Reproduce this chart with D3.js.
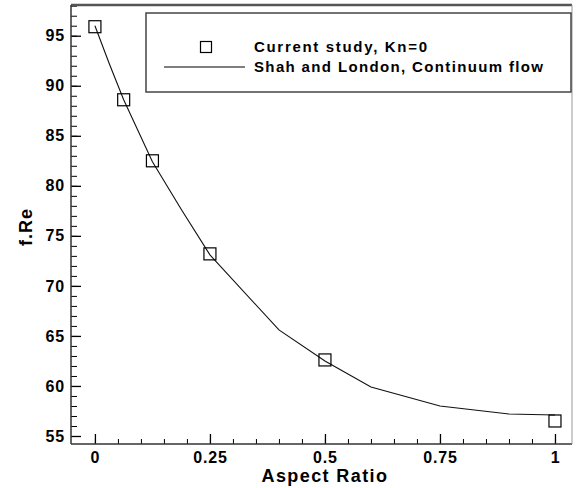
<!DOCTYPE html>
<html>
<head>
<meta charset="utf-8">
<script src="https://cdn.jsdelivr.net/npm/d3@7"></script>
<style>
  body { margin: 0; background: #fff; }
  svg text { font-family: "Liberation Sans", Arial, sans-serif; font-weight: bold; fill: #000; }
  .axis path { display: none; }
  .axis line { stroke: #000; stroke-width: 1.3; }
  .minor line { stroke: #000; stroke-width: 1; }
</style>
</head>
<body>
<script>
    const WIDTH = 577, HEIGHT = 488;

    // Current study (squares)
    const studyAR = [0, 0.0625, 0.125, 0.25, 0.5, 1];
    const studyFRe = [95.9, 88.6, 82.5, 73.2, 62.6, 56.5];

    // Shah and London (line)
    const shahAR = [0, 0.03125, 0.0625, 0.125, 0.1875, 0.25, 0.4, 0.5, 0.6, 0.75, 0.9, 1];
    const shahFRe = [96.0, 92.2, 88.6, 82.4, 77.65, 73.1, 65.6, 62.5, 59.9, 58.0, 57.2, 57.1];

    const xTicks = [0, 0.25, 0.5, 0.75, 1];
    const yTicks = [55, 60, 65, 70, 75, 80, 85, 90, 95];
    const legendLabels = ["Current study, Kn=0", "Shah and London, Continuum flow"];

    var margin = {left: 71, top: 5, right: 5, bottom: 44};
    var plotW = WIDTH - margin.left - margin.right;
    var plotH = HEIGHT - margin.top - margin.bottom;

    var x = d3.scaleLinear().domain([-0.052, 1.037]).range([0, plotW]);
    var y = d3.scaleLinear().domain([54.2, 98.07]).range([plotH, 0]);

    var svg = d3.select("body").append("svg")
        .attr("width", WIDTH)
        .attr("height", HEIGHT);

    var chart = svg.append("g")
        .attr("transform", "translate(" + margin.left + "," + margin.top + ")");

    // minor ticks
    chart.append("g")
        .attr("class", "axis minor")
        .attr("transform", "translate(0," + plotH + ")")
        .call(d3.axisBottom(x).tickValues(d3.range(0, 1.01, 0.05)).tickSize(-5).tickFormat(""));
    chart.append("g")
        .attr("class", "axis minor")
        .call(d3.axisLeft(y).tickValues(d3.range(55, 99, 1)).tickSize(-6).tickFormat(""));

    // major ticks
    chart.append("g")
        .attr("class", "axis")
        .attr("transform", "translate(0," + plotH + ")")
        .call(d3.axisBottom(x).tickValues(xTicks).tickSize(-10).tickPadding(8).tickFormat(d3.format("")))
        .selectAll("text")
        .style("font-size", "16px")
        .style("letter-spacing", "0.8px")
        .attr("fill", "#000");
    chart.append("g")
        .attr("class", "axis")
        .call(d3.axisLeft(y).tickValues(yTicks).tickSize(-10).tickPadding(6))
        .selectAll("text")
        .style("font-size", "16px")
        .style("letter-spacing", "0.8px")
        .attr("fill", "#000");

    // frame
    chart.append("line").attr("x1", 0).attr("x2", plotW).attr("y1", 0).attr("y2", 0)
        .attr("stroke", "#555").attr("stroke-width", 2.5);
    chart.append("line").attr("x1", 0).attr("x2", 0).attr("y1", 0).attr("y2", plotH)
        .attr("stroke", "#333").attr("stroke-width", 1.5);
    chart.append("line").attr("x1", 0).attr("x2", plotW).attr("y1", plotH).attr("y2", plotH)
        .attr("stroke", "#333").attr("stroke-width", 1.5);
    chart.append("line").attr("x1", plotW).attr("x2", plotW).attr("y1", 0).attr("y2", plotH)
        .attr("stroke", "#999").attr("stroke-width", 1);

    // Shah and London line
    var line = d3.line()
        .x(function(d, i) { return x(shahAR[i]); })
        .y(function(d) { return y(d); });
    chart.append("path")
        .datum(shahFRe)
        .attr("d", line)
        .attr("fill", "none")
        .attr("stroke", "#111")
        .attr("stroke-width", 1.1);

    // squares
    var SQ = 12;
    chart.append("g")
        .selectAll("rect")
        .data(studyFRe)
        .enter()
        .append("rect")
        .attr("x", function(d, i) { return x(studyAR[i]) - SQ / 2; })
        .attr("y", function(d) { return y(d) - SQ / 2; })
        .attr("width", SQ)
        .attr("height", SQ)
        .attr("fill", "none")
        .attr("stroke", "#000")
        .attr("stroke-width", 1.2);

    // axis titles
    svg.append("text")
        .attr("x", margin.left + x(0.5))
        .attr("y", 482)
        .attr("text-anchor", "middle")
        .style("font-size", "18px")
        .style("letter-spacing", "1.4px")
        .text("Aspect Ratio");
    svg.append("text")
        .attr("transform", "translate(32," + 227 + ") rotate(-90)")
        .attr("text-anchor", "middle")
        .style("font-size", "18px")
        .style("letter-spacing", "1px")
        .text("f.Re");

    // legend
    var legend = svg.append("g").attr("transform", "translate(146,13)");
    legend.append("rect")
        .attr("width", 425)
        .attr("height", 79)
        .attr("fill", "#fff")
        .attr("stroke", "#444")
        .attr("stroke-width", 1.5);
    legend.append("rect")
        .attr("x", 60 - 5.5).attr("y", 34 - 5.5)
        .attr("width", 11).attr("height", 11)
        .attr("fill", "none").attr("stroke", "#000").attr("stroke-width", 1.2);
    legend.append("line")
        .attr("x1", 18).attr("x2", 99).attr("y1", 54).attr("y2", 54)
        .attr("stroke", "#000").attr("stroke-width", 1.2);
    var labelWidths = [173, 289];
    legend.selectAll("text.lbl")
        .data(legendLabels)
        .enter()
        .append("text")
        .attr("class", "lbl")
        .attr("x", 108)
        .attr("y", function(d, i) { return 39 + i * 20; })
        .attr("textLength", function(d, i) { return labelWidths[i]; })
        .attr("lengthAdjust", "spacing")
        .style("font-size", "15px")
        .text(function(d) { return d; });
</script>
</body>
</html>
